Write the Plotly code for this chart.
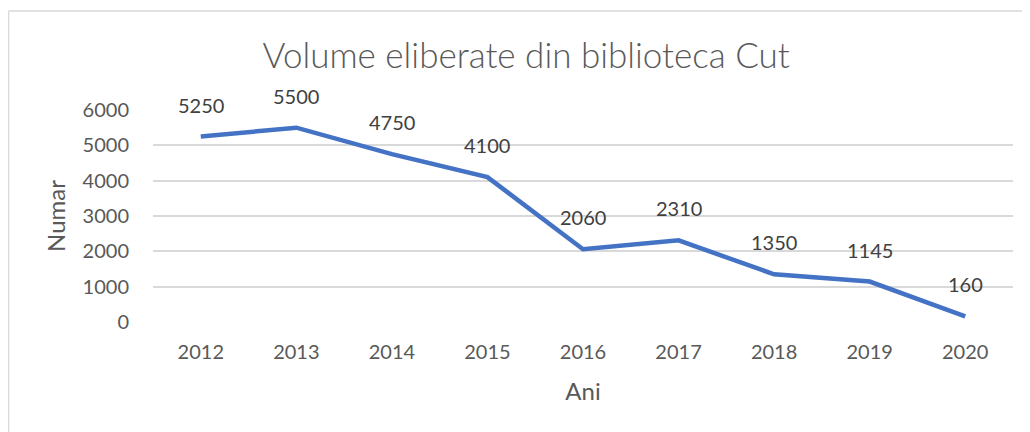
import plotly.graph_objects as go

years = ["2012", "2013", "2014", "2015", "2016", "2017", "2018", "2019", "2020"]
volumes = [5250, 5500, 4750, 4100, 2060, 2310, 1350, 1145, 160]
y_ticks = [0, 1000, 2000, 3000, 4000, 5000, 6000]

title_text = "Volume eliberate din biblioteca Cut"
x_title = "Ani"
y_title = "Numar"

FONT = "Lato"
TXT = "#595959"
GRID = "#d9d9d9"
LINE = "#4472C4"

fig = go.Figure()
fig.add_trace(go.Scatter(
    x=years, y=volumes, mode="lines",
    line=dict(color=LINE, width=4.5),
    hoverinfo="x+y", showlegend=False,
))

for i, y in enumerate(volumes):
    fig.add_annotation(x=i, y=y, text=str(y), showarrow=False, yshift=32,
                       font=dict(family=FONT, size=20, color="#404040"))

# outer light border (left and top edges)
fig.add_shape(type="line", xref="paper", yref="paper", x0=-0.168, x1=-0.168,
              y0=-0.6, y1=1.467, line=dict(color=GRID, width=1.5))
fig.add_shape(type="line", xref="paper", yref="paper", x0=-0.168, x1=1.05,
              y0=1.467, y1=1.467, line=dict(color=GRID, width=1.5))

fig.update_layout(
    width=1030, height=432,
    margin=dict(l=145, r=25, t=102, b=118),
    paper_bgcolor="white", plot_bgcolor="white",
    title=dict(text=title_text, x=0.503, xanchor="center", y=0.889, yanchor="middle",
               font=dict(family=FONT, size=35, color=TXT, weight=300)),
    xaxis=dict(
        type="category", range=[-0.5, len(years) - 0.5],
        showgrid=False, zeroline=False, showline=False,
        ticks="", tickfont=dict(family=FONT, size=20, color=TXT), ticklabelstandoff=16,
        title=dict(text=x_title, font=dict(family=FONT, size=24, color=TXT), standoff=21),
        fixedrange=True,
    ),
    yaxis=dict(
        range=[0, 6000], tickvals=y_ticks, showgrid=True, gridcolor=GRID, gridwidth=1.5,
        zeroline=False, showline=False, ticks="",
        tickfont=dict(family=FONT, size=20, color=TXT), ticklabelstandoff=23,
        title=dict(text=y_title, font=dict(family=FONT, size=24, color=TXT), standoff=10),
        fixedrange=True,
    ),
)

fig.write_html("out.html")
